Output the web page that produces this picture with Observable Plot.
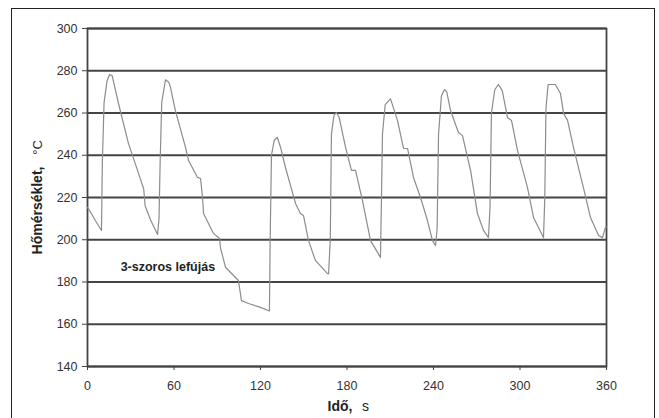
<!DOCTYPE html>
<html><head><meta charset="utf-8">
<script src="https://cdn.jsdelivr.net/npm/d3@7"></script>
<script src="https://cdn.jsdelivr.net/npm/@observablehq/plot@0.6"></script>
<style>
body{margin:0;background:#fff;overflow:hidden;}
#wrap{position:relative;width:659px;height:418px;}
#border{position:absolute;left:11px;top:8px;width:642px;height:440px;border:1.5px solid #222;pointer-events:none;}
</style></head>
<body><div id="wrap"><div id="border"></div></div>
<script>
// Time (s)
const times = [0,3.5,5.5,9.7,10.3,11.5,13.5,15.3,17.1,21.5,28.4,35.4,39,40,44,48.6,
  49.6,50.4,51.5,54.1,56.4,57.6,61,68,70.1,76.3,78.4,79.8,80.5,87.4,91.6,92.2,95.7,104.7,106.8,111.7,120,126.2,
  126.7,127.6,129.5,131.6,133.9,137.3,144.3,147.7,149.8,153.3,158.1,166.5,167.2,
  168.4,169.2,171,172.7,174.5,179,183.1,185.9,190.7,194.9,196.3,201.2,203.2,
  203.8,204.6,206.5,210.2,215,219.2,222,226.1,231,235.8,239.3,241.4,
  242.5,243.5,245.5,247.6,249.2,251.8,257.3,260.1,265.7,270.5,274.7,278.1,
  279.2,280.2,282.5,285,287.7,291.3,294.1,298.3,305.2,309.4,315.6,316.3,
  317.2,318,319.5,324.5,328.1,330.2,333,337.1,344,348.9,354.5,357.2,359.3,360];
// Temperature (°C)
const temps = [215.3,211.5,209,204.4,237,265,275,278.2,277.7,264.5,245.6,231.4,224,216,209,202.5,
  210,237,265,275.7,274.6,272,261,243.7,237.5,229.5,229,220,212.4,203,200.6,196.3,187,180.7,171.2,169.8,168,166.3,
  200,240,247,248.5,243.8,234.2,217.2,212.4,211.5,199.6,190.2,184,183.8,
  200,250,259,260.2,258,243.7,232.8,232.8,218.6,204.4,199.6,194,191.6,
  215,250,264,266.7,256.5,243.2,243.2,229.5,220,209.1,199.6,197.3,
  205,250,268,271.1,270,261.2,250.8,249.3,232.8,212.4,204.4,201,
  215,260,271,273.5,270.6,257.9,256.5,242.2,224.7,210.5,202,201,
  220,262,273.5,273.5,269.2,259.8,256.5,243.7,224.7,210.5,202,201,206,206];
const xTicks = [0,60,120,180,240,300,360];
const yTicks = [140,160,180,200,220,240,260,280,300];
const yLabel = ["Hőmérséklet,", "°C"];
const xLabel = ["Idő,", "s"];
const notes = [{label: "3-szoros lefújás", t: 23, temp: 187}];

const data = times.map((t, i) => ({t, temp: temps[i]}));

const gridColor = "#444";
const chart = Plot.plot({
  width: 659, height: 418,
  marginLeft: 87, marginRight: 53, marginTop: 28, marginBottom: 52,
  style: {fontFamily: "'Liberation Sans', Arial, sans-serif", fontSize: "12.5px", color: "#333", background: "transparent"},
  x: {domain: [0, 360]},
  y: {domain: [140, 300]},
  marks: [
    Plot.gridY(yTicks, {stroke: gridColor, strokeOpacity: 1, strokeWidth: 1.8}),
    Plot.frame({stroke: gridColor, strokeWidth: 1.8}),
    Plot.axisY(yTicks, {tickSize: 5, tickPadding: 5, label: null, stroke: gridColor}),
    Plot.axisX(xTicks, {tickSize: 4, tickPadding: 11, label: null, stroke: gridColor}),
    Plot.line(data, {x: "t", y: "temp", stroke: "#8c8c8c", strokeWidth: 1.2}),
    Plot.text(notes, {x: "t", y: "temp", text: "label", textAnchor: "start", fontWeight: "bold", fontSize: 12.5, fill: "#222"}),
    Plot.text([yLabel[0]], {text: d => d, frameAnchor: "left", rotate: -90, dx: -50, dy: 13, textAnchor: "middle", fontWeight: "bold", fontSize: 14, fill: "#222"}),
    Plot.text([yLabel[1]], {text: d => d, frameAnchor: "left", rotate: -90, dx: -50, dy: -50, textAnchor: "middle", fontSize: 13, fill: "#222"}),
    Plot.text([xLabel[0]], {text: d => d, frameAnchor: "bottom", dx: 5.5, dy: 44, textAnchor: "end", fontWeight: "bold", fontSize: 14, fill: "#222"}),
    Plot.text([xLabel[1]], {text: d => d, frameAnchor: "bottom", dx: 15, dy: 44, textAnchor: "start", fontSize: 14, fill: "#222"})
  ]
});
document.getElementById("wrap").prepend(chart);
</script>
</body></html>
